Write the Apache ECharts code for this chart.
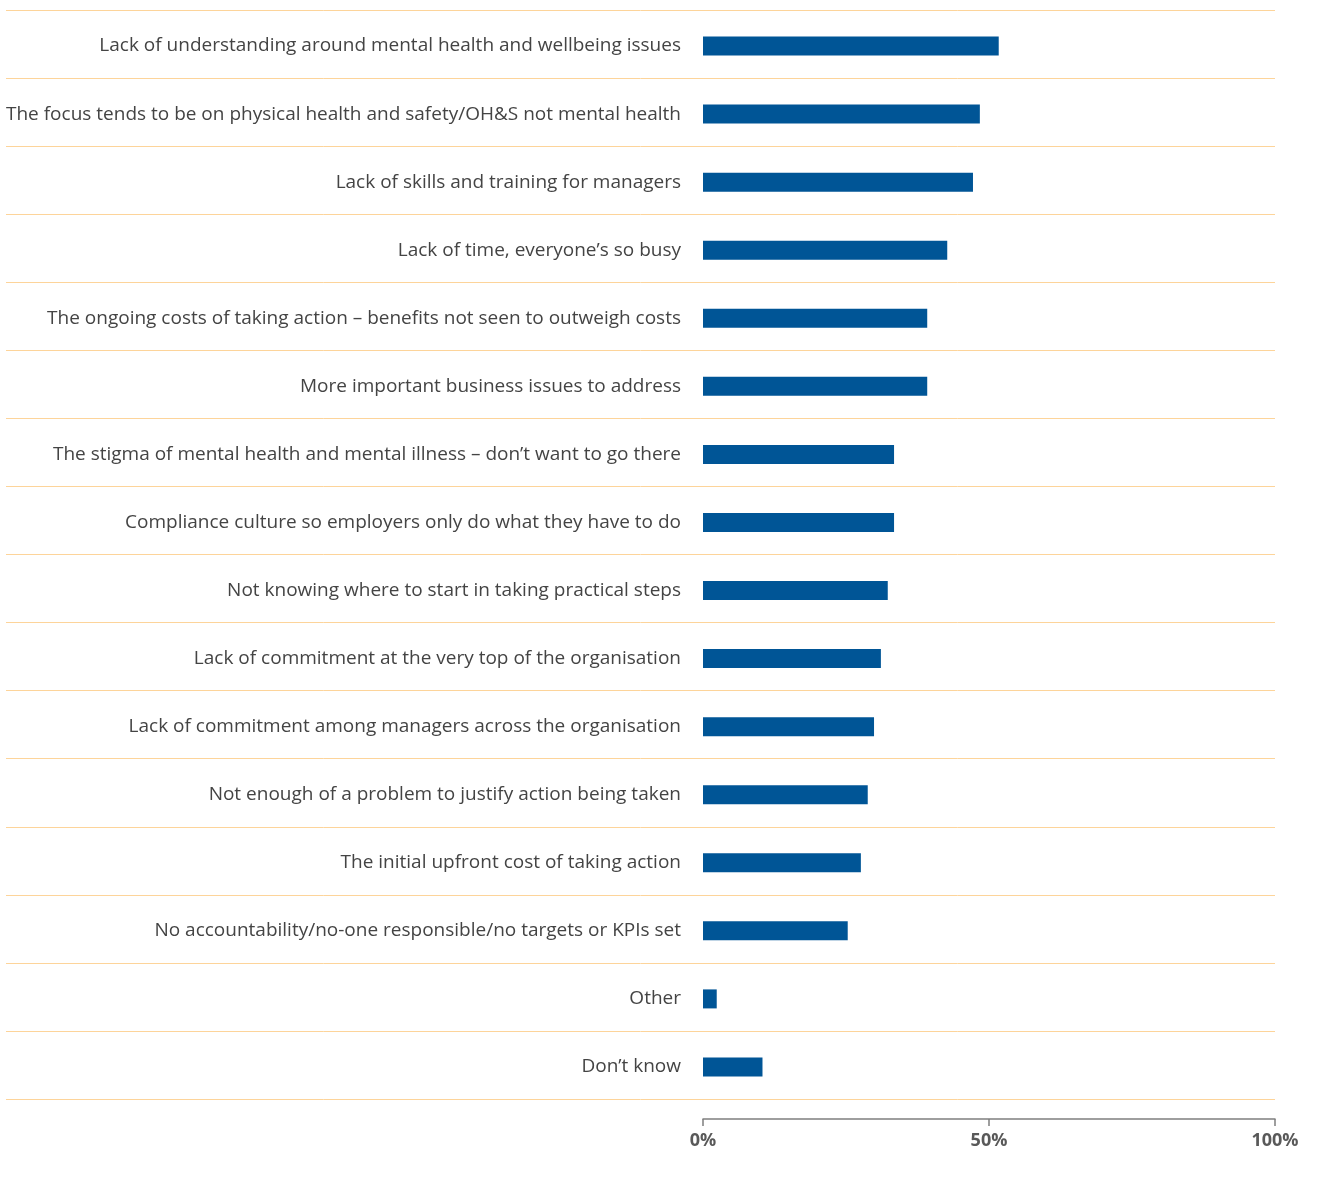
<!DOCTYPE html>
<html lang="en">
<head>
    <meta charset="UTF-8">
    <title>Barriers</title>
    <script src="https://cdn.jsdelivr.net/npm/echarts@6/dist/echarts.min.js"></script>
    <style>
        html, body { margin: 0; padding: 0; background: #fff; }
        #main { width: 1317px; height: 1178px; }
    </style>
</head>
<body>
<div id="main"></div>
<script type="text/javascript">
    // categories, top to bottom
    var categories = [
        'Lack of understanding around mental health and wellbeing issues',
        'The focus tends to be on physical health and safety/OH&S not mental health',
        'Lack of skills and training for managers',
        'Lack of time, everyone\u2019s so busy',
        'The ongoing costs of taking action \u2013 benefits not seen to outweigh costs',
        'More important business issues to address',
        'The stigma of mental health and mental illness \u2013 don\u2019t want to go there',
        'Compliance culture so employers only do what they have to do',
        'Not knowing where to start in taking practical steps',
        'Lack of commitment at the very top of the organisation',
        'Lack of commitment among managers across the organisation',
        'Not enough of a problem to justify action being taken',
        'The initial upfront cost of taking action',
        'No accountability/no-one responsible/no targets or KPIs set',
        'Other',
        'Don\u2019t know'
    ];
    // percent values, same order
    var values = [51.7, 48.4, 47.2, 42.7, 39.2, 39.2, 33.4, 33.4, 32.3, 31.1, 29.9, 28.8, 27.6, 25.3, 2.4, 10.4];
    var xTicks = [0, 50, 100];

    var myChart = echarts.init(document.getElementById('main'));
    myChart.setOption({
        animation: false,
        grid: [
            {left: 703, right: 42, top: 12, bottom: 77},
            // wider grid only for the row separator lines
            {left: 6, right: 42, top: 10, bottom: 79}
        ],
        xAxis: [
            {
                type: 'value',
                gridIndex: 0,
                min: 0,
                max: 100,
                interval: 50,
                offset: 18,
                axisLine: {show: true, lineStyle: {color: '#7f7f7f', width: 1.5}},
                axisTick: {show: true, inside: false, length: 7, lineStyle: {color: '#7f7f7f', width: 1.5}},
                splitLine: {show: false},
                axisLabel: {
                    color: '#595959',
                    fontFamily: 'Open Sans',
                    fontWeight: 'bold',
                    fontSize: 18,
                    margin: 13,
                    formatter: function (v) {
                        return xTicks.indexOf(v) >= 0 ? v + '%' : '';
                    }
                }
            },
            {
                type: 'value',
                gridIndex: 1,
                min: 0,
                max: 1,
                show: false
            }
        ],
        yAxis: [
            {
                type: 'category',
                gridIndex: 0,
                inverse: true,
                data: categories,
                axisLine: {show: false},
                axisTick: {show: false},
                splitLine: {show: false},
                axisLabel: {
                    color: '#444',
                    fontFamily: 'Open Sans',
                    fontSize: 19,
                    margin: 22,
                    padding: [2, 0, 0, 0]
                }
            },
            {
                type: 'value',
                gridIndex: 1,
                min: 0,
                max: 16,
                interval: 1,
                axisLine: {show: false},
                axisTick: {show: false},
                axisLabel: {show: false},
                splitLine: {show: true, lineStyle: {color: '#fdd49a', width: 1}}
            }
        ],
        series: [
            {
                type: 'bar',
                xAxisIndex: 0,
                yAxisIndex: 0,
                data: values,
                barWidth: 19,
                itemStyle: {color: '#005596'}
            }
        ]
    });
</script>
</body>
</html>
